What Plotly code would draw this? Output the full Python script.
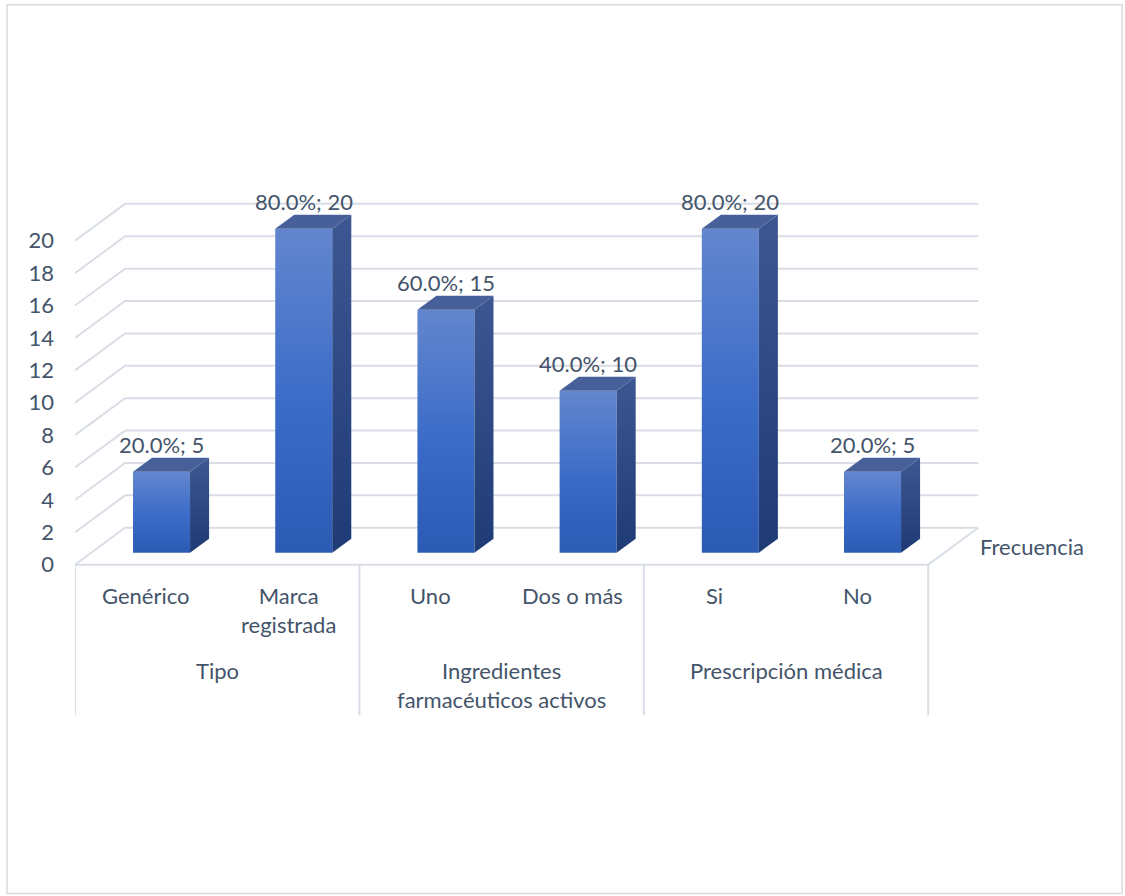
import plotly.graph_objects as go

# ---- data ----
categories = ["Genérico", "Marca<br>registrada", "Uno", "Dos o más", "Si", "No"]
groups = ["Tipo", "Ingredientes<br>farmacéuticos activos", "Prescripción médica"]
group_of = [0, 0, 1, 1, 2, 2]
frecuencia = [5, 20, 15, 10, 20, 5]
y_ticks = list(range(0, 21, 2))
series_name = "Frecuencia"

# ---- styling / geometry (in axis units) ----
FONT = "Lato"
TXT = "#44546a"
GRID = "#d9dee6"
WALL_DX, WALL_DY = 0.352, 2.28     # depth of the 3D box
BAR_X0, BAR_X1 = 0.408, 0.809      # front face of a bar inside its category slot
BAR_BASE = 0.74                    # bars stand a little behind the front edge
BAR_DX, BAR_DY = 0.134, 0.86       # depth of each bar
N = len(categories)

group_tot = {}
for g, v in zip(group_of, frecuencia):
    group_tot[g] = group_tot.get(g, 0) + v

fig = go.Figure()

# walls: gridlines running up the side wall and across the back wall
for v in y_ticks:
    fig.add_trace(go.Scatter(
        x=[0, WALL_DX, N + WALL_DX], y=[v, v + WALL_DY, v + WALL_DY],
        mode="lines", line=dict(color=GRID, width=2), hoverinfo="skip", showlegend=False))
# floor front edge and right edge
fig.add_trace(go.Scatter(
    x=[0, N, N + WALL_DX], y=[0, 0, WALL_DY],
    mode="lines", line=dict(color=GRID, width=2), hoverinfo="skip", showlegend=False))
# group separators under the floor
for k in range(0, N + 1, 2):
    fig.add_trace(go.Scatter(
        x=[k, k], y=[0, -9.3], mode="lines", line=dict(color=GRID, width=2),
        hoverinfo="skip", showlegend=False))

# bars drawn as three faces
front_scale = [[0, "#2c5bb4"], [0.45, "#3a6bc8"], [1, "#6386ce"]]
side_scale = [[0, "#1f3b76"], [1, "#3c5791"]]
annotations = []
for i, v in enumerate(frecuencia):
    x0, x1 = i + BAR_X0, i + BAR_X1
    b, t = BAR_BASE, BAR_BASE + v
    # front
    fig.add_trace(go.Scatter(
        x=[x0, x1, x1, x0, x0], y=[b, b, t, t, b], mode="lines",
        line=dict(width=0, color="rgba(0,0,0,0)"), fill="toself",
        fillgradient=dict(type="vertical", colorscale=front_scale),
        hoverinfo="skip", showlegend=False))
    # side
    fig.add_trace(go.Scatter(
        x=[x1, x1 + BAR_DX, x1 + BAR_DX, x1, x1],
        y=[b, b + BAR_DY, t + BAR_DY, t, b], mode="lines",
        line=dict(width=0, color="rgba(0,0,0,0)"), fill="toself",
        fillgradient=dict(type="vertical", colorscale=side_scale),
        hoverinfo="skip", showlegend=False))
    # top
    fig.add_trace(go.Scatter(
        x=[x0, x1, x1 + BAR_DX, x0 + BAR_DX, x0],
        y=[t, t, t + BAR_DY, t + BAR_DY, t], mode="lines",
        line=dict(width=0, color="rgba(0,0,0,0)"), fill="toself", fillcolor="#47609a",
        hoverinfo="skip", showlegend=False))
    pct = 100.0 * v / group_tot[group_of[i]]
    annotations.append(dict(
        x=(x0 + x1) / 2, y=t + BAR_DY, xref="x", yref="y", text=f"{pct:.1f}%; {v}",
        showarrow=False, yanchor="bottom", yshift=-2,
        font=dict(family=FONT, size=22, color=TXT)))

# category labels
for i, c in enumerate(categories):
    annotations.append(dict(
        x=i + 0.5, y=-0.92, xref="x", yref="y", text=c, showarrow=False,
        yanchor="top", font=dict(family=FONT, size=22, color=TXT)))
# group labels
for g, name in enumerate(groups):
    annotations.append(dict(
        x=2 * g + 1, y=-5.6, xref="x", yref="y", text=name, showarrow=False,
        yanchor="top", font=dict(family=FONT, size=22, color=TXT)))
# depth-axis (series) label
annotations.append(dict(
    x=N + 0.35, y=1.1, xref="x", yref="y", text=series_name, showarrow=False,
    xanchor="left", yanchor="middle", font=dict(family=FONT, size=22, color=TXT)))

L, R, T, B = 75, 12, 176.2, 136.6
W_PLOT = 1125 - L - R
H_PLOT = 896 - T - B


def px_x(p):
    return (p - L) / W_PLOT


def px_y(p):
    return 1 - (p - T) / H_PLOT


fig.update_layout(
    width=1125, height=896,
    margin=dict(l=L, r=R, t=T, b=B),
    paper_bgcolor="white", plot_bgcolor="white",
    showlegend=False,
    annotations=annotations,
    shapes=[dict(type="rect", xref="paper", yref="paper",
                 x0=px_x(7), x1=px_x(1122), y0=px_y(894), y1=px_y(5),
                 line=dict(color="#d6dbe2", width=1.5), layer="below")],
    xaxis=dict(range=[0, 1038 / 142.2], visible=False, fixedrange=True),
    yaxis=dict(range=[-12, 24], showgrid=False, zeroline=False, showline=False,
               tickvals=y_ticks, ticktext=[str(v) for v in y_ticks], ticks="",
               ticklabelstandoff=20,
               tickfont=dict(family=FONT, size=22, color=TXT), fixedrange=True),
)

fig.write_html("out.html")
